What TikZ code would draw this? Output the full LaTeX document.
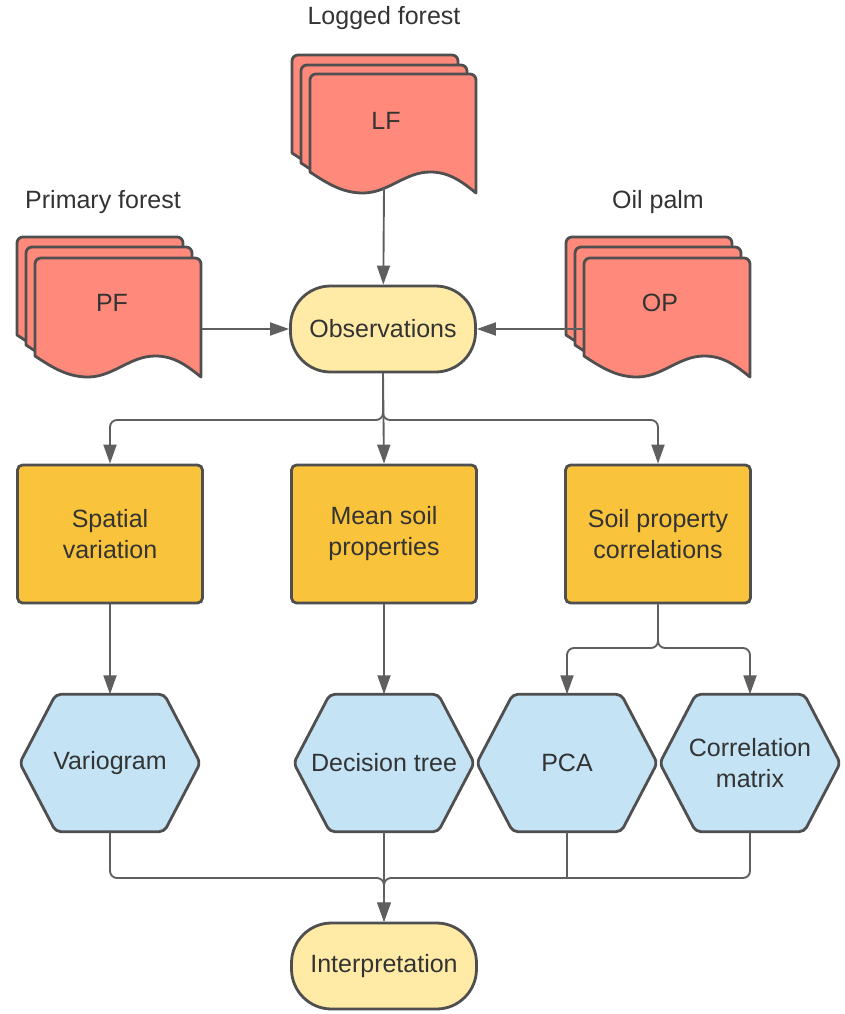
\documentclass[tikz,border=0pt]{standalone}
\usepackage{fontspec}
\setmainfont{Liberation Sans}
\usepackage{tikz}
\usetikzlibrary{
	arrows.meta,
	backgrounds,
	}
\definecolor{docred}{HTML}{FF8A7B}
\definecolor{taskorange}{HTML}{F9C33B}
\definecolor{termyellow}{HTML}{FFEAA6}
\definecolor{methblue}{HTML}{C4E3F5}
\definecolor{edgegrey}{HTML}{4F4F4F}
\definecolor{linegrey}{HTML}{5F5F5F}
\definecolor{textgrey}{HTML}{333333}
% one page of a stacked document, top left corner at (#1,#2)
\newcommand{\sheet}[2]{%
\draw[sheet] (#1,#2+98) [rounded corners=6pt] -- (#1,#2) -- (#1+166,#2) [sharp corners] -- (#1+166,#2+119)
	.. controls (#1+150,#2+106) and (#1+138,#2+98) .. (#1+120,#2+98)
	.. controls (#1+95,#2+98) and (#1+78,#2+119) .. (#1+53,#2+119)
	.. controls (#1+33,#2+119) and (#1+18,#2+110) .. cycle;}

\begin{document}
\begin{tikzpicture}[x=1pt,y=-1pt,
	sheet/.style={fill=docred,draw=edgegrey,line width=2.8pt,line join=round},
	label/.style={font=\fontsize{25}{31}\selectfont,text=textgrey,align=center},
	term/.style={label,draw=edgegrey,fill=termyellow,line width=2.8pt,rounded corners=40pt,minimum width=185pt,minimum height=86pt,inner sep=0pt},
	task/.style={label,draw=edgegrey,fill=taskorange,line width=2.8pt,rounded corners=5pt,minimum width=185pt,minimum height=138pt,inner sep=0pt},
	method/.style={label,minimum width=180pt,minimum height=137pt,inner sep=0pt},
	hex/.style={draw=edgegrey,fill=methblue,line width=2.8pt,rounded corners=5pt,line join=round},
	link/.style={draw=linegrey,line width=1.9pt},
	conn/.style={link,-{Triangle[length=19pt,width=13pt]}}]
\useasboundingbox (0,0) rectangle (844,1014);
% input data
\sheet{292}{55}\sheet{301}{65}\sheet{310}{74}
\sheet{17}{237}\sheet{26}{247}\sheet{35}{258}
\sheet{566}{237}\sheet{575}{247}\sheet{584}{258}
\node[label] (lf) at (386,121) {LF};
\node[label] (pf) at (112,303) {PF};
\node[label] (op) at (660,303) {OP};
\node[label] (lflab) at (384,18) {Logged forest};
\node[label] (pflab) at (103,202) {Primary forest};
\node[label] (oplab) at (658,202) {Oil palm};
\coordinate (lfout) at (384,188);
\coordinate (pfout) at (202,329);
\coordinate (opout) at (584,329);
% flow
\node[term] (obs) at (383,329) {Observations};
\node[task] (spatial) at (110,534) {Spatial\\variation};
\node[task] (mean) at (384,534) {Mean soil\\properties};
\node[task] (corr) at (658,534) {Soil property\\correlations};
\node[method] (vario) at (110,763) {Variogram};
\node[method] (dtree) at (384,763) {Decision tree};
\node[method] (pca) at (567,763) {PCA};
\node[method] (cmat) at (750,763) {Correlation\\matrix};
\node[term] (interp) at (384,966) {Interpretation};
\begin{scope}[on background layer]
\foreach \h in {vario,dtree,pca,cmat}
	\draw[hex] (\h.west) -- ([xshift=36pt]\h.north west) -- ([xshift=-36pt]\h.north east) -- (\h.east) -- ([xshift=-36pt]\h.south east) -- ([xshift=36pt]\h.south west) -- cycle;
\end{scope}
\coordinate (split) at (383,420);
\coordinate (csplit) at (658,648);
\coordinate (merge) at (384,878);
\draw[conn] (lfout) -- (obs);
\draw[conn] (pfout) -- (obs);
\draw[conn] (opout) -- (obs);
\draw[conn,rounded corners=7pt] (obs.south) -- (split) -| (spatial.north);
\draw[conn,rounded corners=7pt] (obs.south) -- (split) -| (corr.north);
\draw[conn] (obs.south) -- (mean.north);
\draw[conn] (spatial) -- (vario.north);
\draw[conn] (mean) -- (dtree.north);
\draw[conn,rounded corners=7pt] (corr.south) -- (csplit) -| (pca.north);
\draw[conn,rounded corners=7pt] (corr.south) -- (csplit) -| (cmat.north);
\draw[conn,rounded corners=7pt] (vario.south) |- (merge) -- (interp.north);
\draw[conn,rounded corners=7pt] (cmat.south) |- (merge) -- (interp.north);
\draw[conn] (dtree.south) -- (interp.north);
\draw[link] (pca.south) -- (pca.south |- merge);
\end{tikzpicture}
\end{document}
